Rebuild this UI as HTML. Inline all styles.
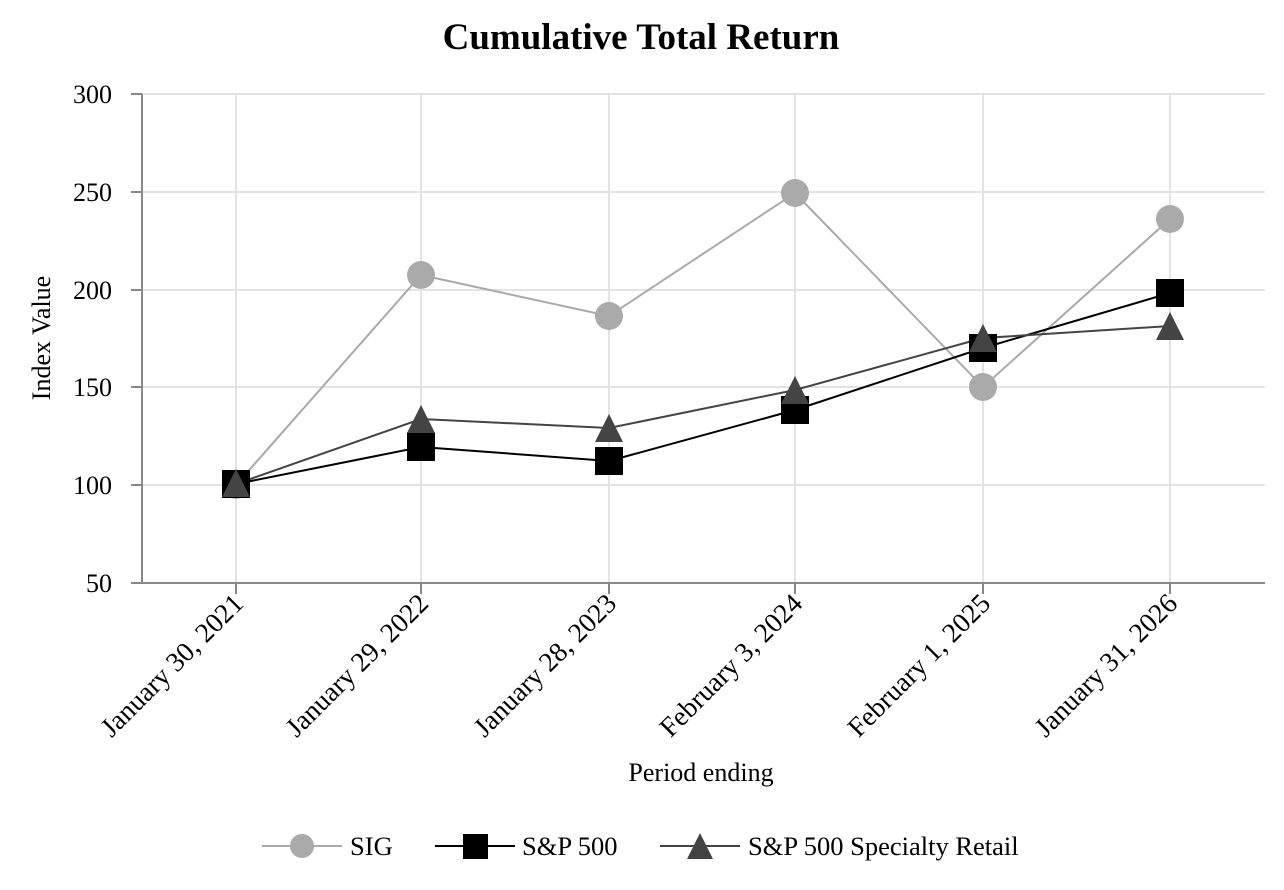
<!DOCTYPE html>
<html><head><meta charset="utf-8"><style>body{margin:0;background:#fff}svg{display:block}</style></head><body>
<svg width="1284" height="890" xmlns="http://www.w3.org/2000/svg" font-family="Liberation Serif, serif">
<text x="641" y="49" text-anchor="middle" font-size="37" font-weight="bold">Cumulative Total Return</text>
<g stroke="#e3e3e3" stroke-width="2">
<line x1="142" y1="94" x2="1265" y2="94"/><line x1="142" y1="192" x2="1265" y2="192"/><line x1="142" y1="290" x2="1265" y2="290"/><line x1="142" y1="387" x2="1265" y2="387"/><line x1="142" y1="485" x2="1265" y2="485"/>
<line x1="236" y1="94" x2="236" y2="583"/><line x1="421" y1="94" x2="421" y2="583"/><line x1="609" y1="94" x2="609" y2="583"/><line x1="795" y1="94" x2="795" y2="583"/><line x1="983" y1="94" x2="983" y2="583"/><line x1="1170" y1="94" x2="1170" y2="583"/>
</g>
<g stroke="#888" stroke-width="2">
<line x1="142" y1="94" x2="142" y2="583"/><line x1="131" y1="583" x2="1265" y2="583"/>
<line x1="131" y1="94" x2="142" y2="94"/><line x1="131" y1="192" x2="142" y2="192"/><line x1="131" y1="290" x2="142" y2="290"/><line x1="131" y1="387" x2="142" y2="387"/><line x1="131" y1="485" x2="142" y2="485"/>
<line x1="236" y1="583" x2="236" y2="594"/><line x1="421" y1="583" x2="421" y2="594"/><line x1="609" y1="583" x2="609" y2="594"/><line x1="795" y1="583" x2="795" y2="594"/><line x1="983" y1="583" x2="983" y2="594"/><line x1="1170" y1="583" x2="1170" y2="594"/>
</g>
<g font-size="26" text-anchor="end">
<text x="112" y="103">300</text><text x="112" y="201">250</text><text x="112" y="299">200</text><text x="112" y="396">150</text><text x="112" y="494">100</text><text x="112" y="592">50</text>
</g>
<g font-size="27.5" text-anchor="end">
<text transform="translate(245,605) rotate(-45)">January 30, 2021</text>
<text transform="translate(430,605) rotate(-45)">January 29, 2022</text>
<text transform="translate(618,605) rotate(-45)">January 28, 2023</text>
<text transform="translate(804,605) rotate(-45)">February 3, 2024</text>
<text transform="translate(992,605) rotate(-45)">February 1, 2025</text>
<text transform="translate(1179,605) rotate(-45)">January 31, 2026</text>
</g>
<text x="701" y="781" text-anchor="middle" font-size="26">Period ending</text>
<text transform="translate(50,338) rotate(-90)" text-anchor="middle" font-size="26">Index Value</text>
<polyline fill="none" stroke="#aaa" stroke-width="2" points="236,485 421,275 609,316 795,193 983,387 1170,219"/>
<polyline fill="none" stroke="#000" stroke-width="2" points="236,484 421,447 609,461 795,410 983,348 1170,293"/>
<polyline fill="none" stroke="#444" stroke-width="2" points="236,484 421,419 609,428 795,390 983,338 1170,326"/>
<g fill="#aaa"><circle cx="236" cy="485" r="14"/><circle cx="421" cy="275" r="14"/><circle cx="609" cy="316" r="14"/><circle cx="795" cy="193" r="14"/><circle cx="983" cy="387" r="14"/><circle cx="1170" cy="219" r="14"/></g>
<g fill="#000"><rect x="222" y="470" width="28" height="28"/><rect x="407" y="433" width="28" height="28"/><rect x="595" y="447" width="28" height="28"/><rect x="781" y="396" width="28" height="28"/><rect x="969" y="334" width="28" height="28"/><rect x="1156" y="279" width="28" height="28"/></g>
<g fill="#444">
<polygon points="236,469 250,497 222,497"/><polygon points="421,405 435,433 407,433"/><polygon points="609,414 623,442 595,442"/><polygon points="795,376 809,404 781,404"/><polygon points="983,324 997,352 969,352"/><polygon points="1170,312 1184,340 1156,340"/>
</g>
<line x1="262" y1="846" x2="342" y2="846" stroke="#aaa" stroke-width="2"/><circle cx="302" cy="846" r="12" fill="#aaa"/>
<text x="350" y="855" font-size="26.5">SIG</text>
<line x1="435" y1="846" x2="515" y2="846" stroke="#000" stroke-width="2"/><rect x="463" y="834" width="25" height="25" fill="#000"/>
<text x="522" y="855" font-size="26.5">S&amp;P 500</text>
<line x1="660" y1="846" x2="740" y2="846" stroke="#444" stroke-width="2"/><polygon points="700,833 713,859 687,859" fill="#444"/>
<text x="748" y="855" font-size="26.5">S&amp;P 500 Specialty Retail</text>
</svg>
</body></html>
